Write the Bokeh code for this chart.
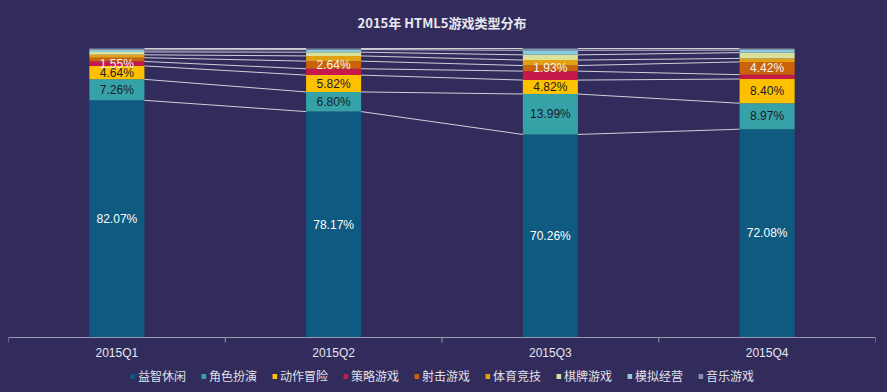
from bokeh.plotting import figure
from bokeh.models import ColumnDataSource, Range1d, Legend, LegendItem, Span
from bokeh.core.properties import value
from bokeh.embed import file_html
from bokeh.resources import INLINE

# ---------------- data ----------------
title = "2015年 HTML5游戏类型分布"
categories = ["2015Q1", "2015Q2", "2015Q3", "2015Q4"]
series_names = ["益智休闲", "角色扮演", "动作冒险", "策略游戏", "射击游戏",
                "体育竞技", "棋牌游戏", "模拟经营", "音乐游戏"]
puzzle = [82.07, 78.17, 70.26, 72.08]
rpg = [7.26, 6.80, 13.99, 8.97]
action = [4.64, 5.82, 4.82, 8.40]
strategy = [1.55, 2.2, 3.1, 1.5]
shooting = [1.3, 2.64, 1.93, 4.42]
sports = [1.0, 1.8, 1.9, 1.2]
chess = [1.0, 1.3, 1.8, 2.0]
sim = [0.7, 0.9, 1.6, 0.9]
music = [0.48, 0.37, 0.6, 0.53]
# which of the small series carries a visible label in each quarter
small_label_series = ["策略游戏", "射击游戏", "射击游戏", "射击游戏"]

colors = ["#0e5a80", "#35a2a8", "#fdc100", "#c6194a", "#cc620a",
          "#e3a013", "#dbe198", "#8ccbd9", "#8391a8"]

BG = "#322c5c"
AXIS_COLOR = "#9a9ab0"
values = [puzzle, rpg, action, strategy, shooting, sports, chess, sim, music]
keys = ["s%d" % i for i in range(len(series_names))]
xs = [i + 0.5 for i in range(len(categories))]
data = {"x": xs}
for k, v in zip(keys, values):
    data[k] = v
source = ColumnDataSource(data)

# layout (pixels)
WIDTH, HEIGHT = 887, 392
TOP_100, AXIS_Y = 48, 337            # pixel rows of 100 % and 0 %
px = (AXIS_Y - TOP_100) / 100.0       # pixels per percent
y_lo = -(HEIGHT - AXIS_Y) / px
y_hi = 100 + TOP_100 / px
W = 0.254

p = figure(width=WIDTH, height=HEIGHT, output_backend="svg",
           toolbar_location=None,
           x_range=Range1d(0, len(categories)), y_range=Range1d(y_lo, y_hi),
           x_axis_location=None, y_axis_location=None,
           min_border_left=8, min_border_right=12,
           min_border_top=0, min_border_bottom=0)
p.background_fill_color = BG
p.border_fill_color = BG
p.outline_line_color = None
p.xgrid.visible = False
p.ygrid.visible = False

renderers = p.vbar_stack(keys, x="x", width=W, source=source, color=colors,
                         line_color=None)

# connecting lines between stacked tops
cum = [[0.0] * len(categories)]
for v in values:
    cum.append([a + b for a, b in zip(cum[-1], v)])
x0, x1, y0, y1 = [], [], [], []
for s in range(1, len(values) + 1):
    for i in range(len(categories) - 1):
        x0.append(xs[i] + W / 2)
        x1.append(xs[i + 1] - W / 2)
        y0.append(cum[s][i])
        y1.append(cum[s][i + 1])
p.segment(x0=x0, y0=y0, x1=x1, y1=y1, line_color="#d0d0d8", line_width=1)

# value labels
lx, ly, lt, lc = [], [], [], []
label_colors = {"益智休闲": "#ffffff", "角色扮演": "#1a1a2a", "动作冒险": "#1a1a2a",
                "策略游戏": "#f4f0f4", "射击游戏": "#f8f4ee"}
for i in range(len(categories)):
    for s, name in enumerate(series_names):
        if s < 3 or name == small_label_series[i]:
            lx.append(xs[i])
            ly.append((cum[s][i] + cum[s + 1][i]) / 2)
            lt.append("%.2f%%" % values[s][i])
            lc.append(label_colors[name])
p.text(x=lx, y=ly, text=lt, text_color=lc, text_align="center",
       text_baseline="middle", text_font=value("Liberation Sans"),
       text_font_size="12px")

# category axis
p.add_layout(Span(location=0, dimension="width", line_color=AXIS_COLOR,
                  line_width=1))
bounds = list(range(len(categories) + 1))
p.segment(x0=bounds, x1=bounds, y0=[0] * len(bounds),
          y1=[-5 / px] * len(bounds), line_color=AXIS_COLOR, line_width=1)
p.text(x=xs, y=[0] * len(xs), text=categories, y_offset=15,
       text_align="center", text_baseline="middle", text_color="#e6e6ee",
       text_font=value("Liberation Sans"), text_font_size="12px")

# title
p.text(x=[len(categories) / 2], y=[100], text=[title], y_offset=-26,
       text_align="center", text_baseline="middle", text_color="#e8e8ee",
       text_font=value("Noto Sans CJK SC"), text_font_size="13px",
       text_font_style="bold")

legend = Legend(items=[LegendItem(label=n, renderers=[r])
                       for n, r in zip(series_names, renderers)],
                orientation="horizontal", location="bottom_center",
                background_fill_alpha=0, border_line_alpha=0,
                label_text_color="#e0e0e8", label_text_font="Noto Sans CJK SC",
                label_text_font_size="12px", glyph_width=6, glyph_height=6,
                label_standoff=3, spacing=14, padding=0, margin=8)
p.add_layout(legend)

html = file_html(p, INLINE)
html = html.replace("<head>", "<head><style>body{background:%s;}</style>" % BG, 1)
open("out.html", "w").write(html)
